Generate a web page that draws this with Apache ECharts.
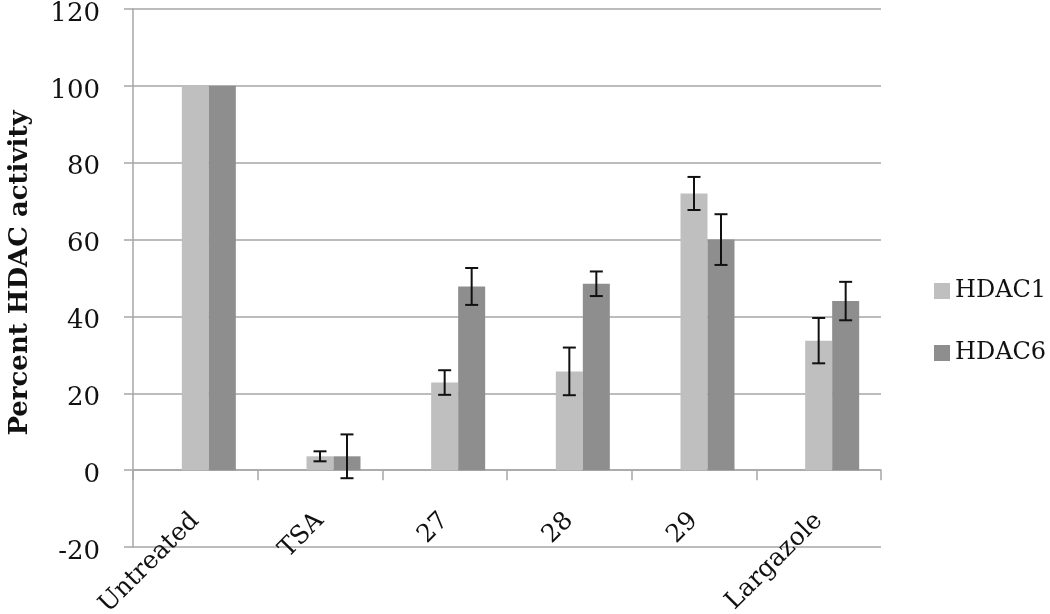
<!DOCTYPE html>
<html>
<head>
<meta charset="utf-8">
<script src="https://cdn.jsdelivr.net/npm/echarts@6/dist/echarts.min.js"></script>
<style>
html,body{margin:0;padding:0;background:#fff;}
#chart{width:1050px;height:614px;}
</style>
</head>
<body>
<div id="chart"></div>
<script>
const categories = ['Untreated', 'TSA', '27', '28', '29', 'Largazole'];
const hdac1 = [100, 3.6, 22.8, 25.7, 72, 33.7];
const hdac6 = [100, 3.6, 47.8, 48.5, 60, 44];
const hdac1Err = [0, 1.3, 3.2, 6.2, 4.3, 5.9];
const hdac6Err = [0, 5.7, 4.8, 3.2, 6.6, 5.0];
const yMin = -20, yMax = 120, yStep = 20;

const FONT = 'DejaVu Serif';
const BAR_W = 27;

function errData(vals, errs) {
  return vals.map((v, i) => [i, v, errs[i]]);
}

function errRender(offset) {
  return function (params, api) {
    const e = api.value(2);
    if (!e) return null;
    const idx = api.value(0), v = api.value(1);
    const cx = api.coord([idx, 0])[0] + offset;
    const yt = api.coord([idx, v + e])[1];
    const yb = api.coord([idx, v - e])[1];
    const hw = 6.5;
    const st = { stroke: '#111', lineWidth: 2 };
    return {
      type: 'group',
      children: [
        { type: 'line', shape: { x1: cx, y1: yt, x2: cx, y2: yb }, style: st },
        { type: 'line', shape: { x1: cx - hw, y1: yt, x2: cx + hw, y2: yt }, style: st },
        { type: 'line', shape: { x1: cx - hw, y1: yb, x2: cx + hw, y2: yb }, style: st }
      ]
    };
  };
}

const chart = echarts.init(document.getElementById('chart'));
chart.setOption({
  animation: false,
  backgroundColor: '#ffffff',
  textStyle: { fontFamily: FONT, color: '#111' },
  grid: { left: 133, right: 169, top: 9, bottom: 67, containLabel: false, outerBoundsMode: 'none' },
  legend: {
    data: ['HDAC1', 'HDAC6'],
    orient: 'vertical',
    left: 929,
    top: 274,
    itemWidth: 16,
    itemHeight: 16,
    itemGap: 38,
    icon: 'rect',
    textStyle: { fontFamily: FONT, fontSize: 24, color: '#111' }
  },
  xAxis: {
    type: 'category',
    data: categories,
    axisLine: { onZero: true, lineStyle: { color: '#a6a6a6', width: 1.5 } },
    axisTick: { show: true, alignWithLabel: false, interval: 0, length: 10, lineStyle: { color: '#a6a6a6', width: 1.5 } },
    axisLabel: {
      interval: 0,
      rotate: 45,
      margin: -30,
      fontFamily: FONT,
      fontSize: 25,
      color: '#111'
    },
    splitLine: { show: false }
  },
  yAxis: {
    type: 'value',
    min: yMin,
    max: yMax,
    interval: yStep,
    name: 'Percent HDAC activity',
    nameLocation: 'middle',
    nameGap: 100,
    nameTextStyle: { fontFamily: FONT, fontSize: 26, fontWeight: 'bold', color: '#111', padding: [0, 0, 0, 10] },
    axisLine: { show: true, lineStyle: { color: '#a6a6a6', width: 1.5 } },
    axisTick: { show: true, length: 9, lineStyle: { color: '#a6a6a6', width: 1.5 } },
    axisLabel: { margin: 33, fontFamily: FONT, fontSize: 26, color: '#111', verticalAlign: 'top', lineHeight: 10 },
    splitLine: { show: true, lineStyle: { color: '#a6a6a6', width: 1.5 } }
  },
  series: [
    { name: '_spacer', type: 'bar', data: [], barWidth: BAR_W, barGap: '0%', silent: true },
    { name: 'HDAC1', type: 'bar', data: hdac1, barWidth: BAR_W, barGap: '0%', itemStyle: { color: '#bfbfbf' } },
    { name: 'HDAC6', type: 'bar', data: hdac6, barWidth: BAR_W, barGap: '0%', itemStyle: { color: '#8e8e8e' } },
    { name: 'HDAC1 err', type: 'custom', data: errData(hdac1, hdac1Err), renderItem: errRender(0), encode: { x: 0, y: 1 }, z: 5, silent: true },
    { name: 'HDAC6 err', type: 'custom', data: errData(hdac6, hdac6Err), renderItem: errRender(BAR_W), encode: { x: 0, y: 1 }, z: 5, silent: true }
  ]
});
</script>
</body>
</html>
